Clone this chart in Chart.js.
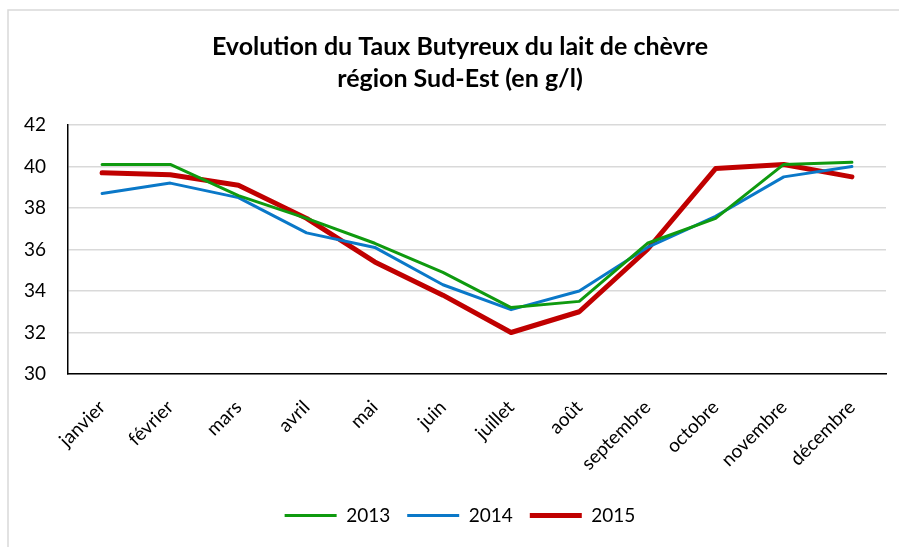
<!DOCTYPE html>
<html>
<head>
<meta charset="utf-8">
<script src="https://cdn.jsdelivr.net/npm/chart.js@4/dist/chart.umd.min.js"></script>
<style>
html,body{margin:0;padding:0;background:#fff;}
#wrap{width:899px;height:547px;position:relative;}
</style>
</head>
<body>
<div id="wrap"><canvas id="c" width="899" height="547"></canvas></div>
<script>
const months = ['janvier','février','mars','avril','mai','juin','juillet','août','septembre','octobre','novembre','décembre'];
const y2013 = [40.1, 40.1, 38.6, 37.5, 36.3, 34.9, 33.2, 33.5, 36.3, 37.5, 40.1, 40.2];
const y2014 = [38.7, 39.2, 38.5, 36.8, 36.1, 34.3, 33.1, 34.0, 36.1, 37.6, 39.5, 40.0];
const y2015 = [39.7, 39.6, 39.1, 37.5, 35.4, 33.8, 32.0, 33.0, 36.0, 39.9, 40.1, 39.5];
const titleLines = ['Evolution du Taux Butyreux du lait de chèvre', 'région Sud-Est (en g/l)'];
const yMin = 30, yMax = 42, yStep = 2;

const FONT = 'Lato, "Open Sans", sans-serif';

const frame = {
  id: 'frame',
  beforeDraw(chart) {
    const ctx = chart.ctx;
    ctx.save();
    ctx.fillStyle = '#fff';
    ctx.fillRect(0, 0, chart.width, chart.height);
    ctx.strokeStyle = '#d9d9d9';
    ctx.lineWidth = 1.5;
    ctx.strokeRect(8, 10, 1000, 1000);
    ctx.restore();
  }
};

new Chart(document.getElementById('c'), {
  type: 'line',
  data: {
    labels: months,
    datasets: [
      {label: '2013', data: y2013, borderColor: '#0f9a0f', backgroundColor: '#0f9a0f', borderWidth: 3},
      {label: '2014', data: y2014, borderColor: '#0a78c8', backgroundColor: '#0a78c8', borderWidth: 3},
      {label: '2015', data: y2015, borderColor: '#c00000', backgroundColor: '#c00000', borderWidth: 5}
    ]
  },
  plugins: [frame],
  options: {
    responsive: false,
    animation: false,
    devicePixelRatio: 1,
    layout: {padding: {left: 0, right: -21, top: 0, bottom: 12}},
    elements: {
      point: {radius: 0, hoverRadius: 0},
      line: {tension: 0, borderJoinStyle: 'round', borderCapStyle: 'round'}
    },
    plugins: {
      title: {
        display: true,
        text: titleLines,
        color: '#000',
        font: {family: FONT, size: 25, weight: 'bold', lineHeight: 1.28},
        padding: {top: 31, bottom: 30}
      },
      legend: {
        position: 'bottom',
        labels: {
          usePointStyle: true,
          pointStyle: 'line',
          pointStyleWidth: 52,
          color: '#000',
          font: {family: FONT, size: 19},
          padding: 17
        }
      },
      tooltip: {enabled: false}
    },
    scales: {
      x: {
        offset: true,
        grid: {display: false, drawTicks: false},
        border: {display: true, color: '#000', width: 1.5},
        ticks: {
          color: '#000',
          font: {family: FONT, size: 19},
          maxRotation: 45, minRotation: 45,
          padding: 22,
          autoSkip: false
        },
        afterFit(s) { s.height = 115; }
      },
      y: {
        min: yMin, max: yMax,
        grid: {color: '#d9d9d9', lineWidth: 1.5, drawTicks: false},
        border: {display: true, color: '#000', width: 1.5},
        ticks: {
          stepSize: yStep,
          color: '#000',
          font: {family: FONT, size: 19},
          padding: 22
        },
        afterFit(s) { s.width = 68; }
      },
      spacer: {
        type: 'linear',
        position: 'right',
        display: true,
        grid: {display: false, drawTicks: false},
        border: {display: false},
        ticks: {display: false},
        afterFit(s) { s.width = 34; }
      }
    }
  }
});
</script>
</body>
</html>
